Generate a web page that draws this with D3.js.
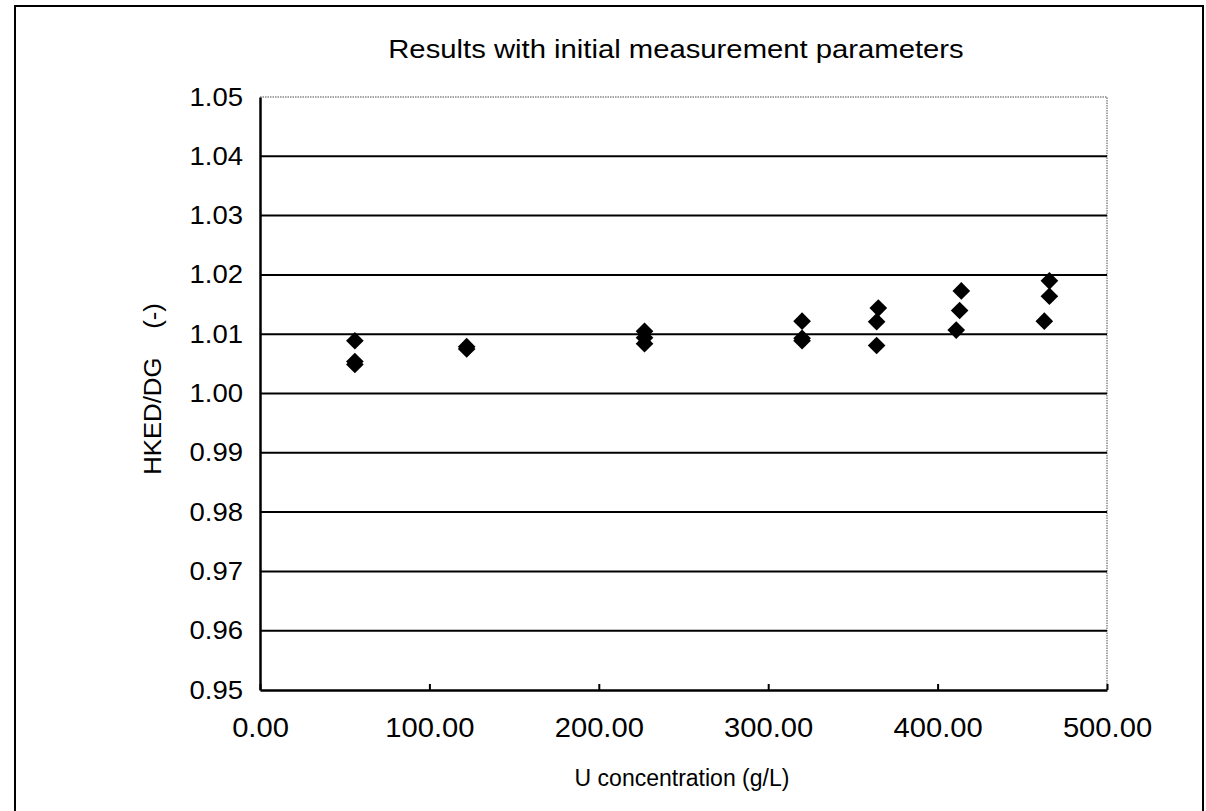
<!DOCTYPE html>
<html>
<head>
<meta charset="utf-8">
<script src="https://cdn.jsdelivr.net/npm/d3@7"></script>
<style>
  body { margin: 0; background: #fff; }
  text { font-family: "Liberation Sans", Arial, sans-serif; fill: #000; }
</style>
</head>
<body>
<div id="chart"></div>
<script>
// data
const concentration = [56, 56, 56, 122, 122, 227, 227, 227, 320, 320, 320, 365, 364, 364, 414, 413, 411, 466, 466, 463];
const ratio = [1.0089, 1.0054, 1.0049, 1.0079, 1.0075, 1.0105, 1.0094, 1.0084, 1.0122, 1.0093, 1.0089,
               1.0144, 1.0121, 1.0081, 1.0173, 1.0140, 1.0107, 1.0190, 1.0164, 1.0122];
const xTicks = [0, 100, 200, 300, 400, 500];
const yTicks = [0.95, 0.96, 0.97, 0.98, 0.99, 1.00, 1.01, 1.02, 1.03, 1.04, 1.05];

const W = 1206, H = 811;
const margin = {top: 97, right: 99, bottom: 121, left: 260},
    width = W - margin.left - margin.right,
    height = H - margin.top - margin.bottom;

// the scan is a bit wider than the font, so stretch text horizontally
function stretch(sel, k) {
  sel.each(function() {
    const len = this.getComputedTextLength();
    d3.select(this).attr("textLength", len * k).attr("lengthAdjust", "spacingAndGlyphs");
  });
}

const svgRoot = d3.select("#chart")
  .append("svg")
    .attr("width", W)
    .attr("height", H);

// outer frame of the scanned page
svgRoot.append("rect")
  .attr("x", 15).attr("y", 6)
  .attr("width", 1188).attr("height", 900)
  .attr("fill", "none")
  .attr("stroke", "#000")
  .attr("stroke-width", 2);

const svg = svgRoot.append("g")
  .attr("transform", `translate(${margin.left},${margin.top})`);

const x = d3.scaleLinear().domain([0, 500]).range([0, width]);
const y = d3.scaleLinear().domain([0.95, 1.05]).range([height, 0]);

// plot area border (top / right are light dotted)
svg.append("path")
  .attr("d", `M0,0H${width}V${height}`)
  .attr("fill", "none")
  .attr("stroke", "#888")
  .attr("stroke-width", 1.5)
  .attr("stroke-dasharray", "1.5,1");

// horizontal gridlines
svg.append("g")
  .selectAll("line")
  .data(yTicks.slice(1, -1))
  .join("line")
    .attr("x1", 0).attr("x2", width)
    .attr("y1", d => y(d)).attr("y2", d => y(d))
    .attr("stroke", "#000")
    .attr("stroke-width", 2);

// Y axis
const yAxis = svg.append("g")
  .call(d3.axisLeft(y).tickValues(yTicks).tickFormat(d3.format(".2f")).tickSize(0).tickPadding(17));
yAxis.select(".domain").attr("stroke", "#000").attr("stroke-width", 2.5);
yAxis.selectAll("text").attr("font-size", 25).call(stretch, 1.1);

// X axis with inward ticks
const xAxis = svg.append("g")
  .attr("transform", `translate(0,${height})`)
  .call(d3.axisBottom(x).tickValues(xTicks).tickFormat(d3.format(".2f")).tickSizeInner(-6).tickSizeOuter(0).tickPadding(28));
xAxis.select(".domain").attr("stroke", "#000").attr("stroke-width", 2.5);
xAxis.selectAll(".tick line").attr("stroke", "#000").attr("stroke-width", 2);
xAxis.selectAll("text").attr("font-size", 27).call(stretch, 1.08);

// points
svg.append("g")
  .selectAll("path")
  .data(concentration.map((c, i) => [c, ratio[i]]))
  .join("path")
    .attr("d", d3.symbol().type(d3.symbolSquare).size(156))
    .attr("transform", d => `translate(${x(d[0])},${y(d[1])}) rotate(45)`)
    .attr("fill", "#000");

// titles
svgRoot.append("text")
  .attr("x", 676).attr("y", 58)
  .attr("text-anchor", "middle")
  .attr("font-size", 25)
  .text("Results with initial measurement parameters")
  .call(stretch, 1.17);

svgRoot.append("text")
  .attr("x", 682).attr("y", 786)
  .attr("text-anchor", "middle")
  .attr("font-size", 23)
  .text("U concentration (g/L)")
  .call(stretch, 1.0);

svgRoot.append("text")
  .attr("transform", "translate(161,389) rotate(-90)")
  .attr("text-anchor", "middle")
  .attr("font-size", 23)
  .attr("xml:space", "preserve")
  .style("white-space", "pre")
  .text("HKED/DG    (-)")
  .call(stretch, 1.12);
</script>
</body>
</html>
